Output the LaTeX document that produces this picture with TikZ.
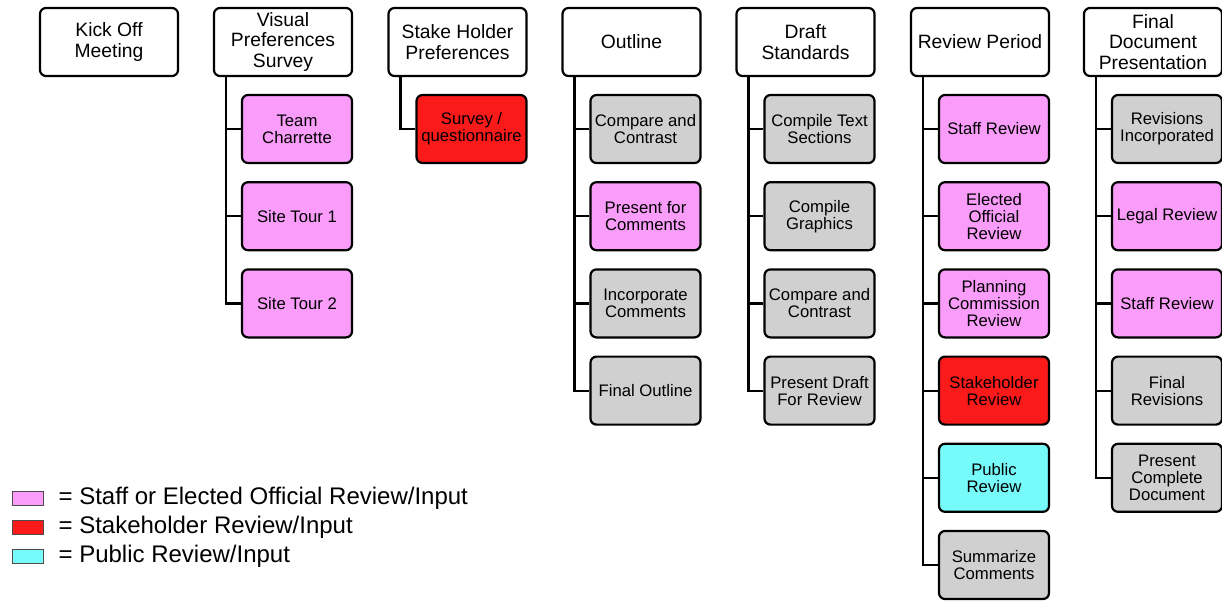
\documentclass[tikz,border=0pt]{standalone}
\usepackage{fontspec}
\setmainfont{Liberation Sans}
\usetikzlibrary{positioning}

\definecolor{staffpink}{RGB}{250,156,250}
\definecolor{holderred}{RGB}{250,26,26}
\definecolor{publiccyan}{RGB}{118,250,250}
\definecolor{taskgray}{RGB}{208,208,208}

\tikzset{
	phase/.style={draw, line width=2.2pt, rounded corners=6pt, fill=white, minimum width=138pt, minimum height=68pt, inner sep=1pt, align=center, font=\fontsize{19.3}{20.5}\selectfont},
	task/.style={draw, line width=2.2pt, rounded corners=6pt, minimum width=110pt, minimum height=68pt, inner sep=1pt, align=center, font=\fontsize{16.7}{17}\selectfont},
	staff/.style={task, fill=staffpink},
	holder/.style={task, fill=holderred},
	public/.style={task, fill=publiccyan},
	plain/.style={task, fill=taskgray},
	link/.style={line width=2.2pt},
	keybox/.style={draw=black!70, line width=0.8pt, minimum width=31pt, minimum height=14pt, inner sep=0pt},
	keytext/.style={font=\fontsize{24}{28}\selectfont, inner sep=0pt}
}

\begin{document}
\begin{tikzpicture}[x=1pt, y=1pt]
	\useasboundingbox (0,0) rectangle (1222,-600);

	% phases
	\node (kickoff) [phase] at (109,-42) {Kick Off\\Meeting};
	\node (visual) [phase] at (283,-42) {Visual\\Preferences\\Survey};
	\node (stake) [phase] at (457.5,-42) {Stake Holder\\Preferences};
	\node (outline) [phase] at (631.5,-42) {Outline};
	\node (draft) [phase] at (805.5,-42) {Draft\\Standards};
	\node (review) [phase] at (980,-42) {Review Period};
	\node (final) [phase] at (1153,-42) {Final\\Document\\Presentation};

	% visual preferences survey
	\node (charrette) [staff] at (297,-129) {Team\\Charrette};
	\node (tour1) [staff][below=17pt of charrette] {Site Tour 1};
	\node (tour2) [staff][below=17pt of tour1] {Site Tour 2};

	% stake holder preferences
	\node (survey) [holder] at (471.5,-129) {Survey /\\questionnaire};

	% outline
	\node (compare) [plain] at (645.5,-129) {Compare and\\Contrast};
	\node (present) [staff][below=17pt of compare] {Present for\\Comments};
	\node (incorp) [plain][below=17pt of present] {Incorporate\\Comments};
	\node (finout) [plain][below=17pt of incorp] {Final Outline};

	% draft standards
	\node (comptext) [plain] at (819.5,-129) {Compile Text\\Sections};
	\node (compgraph) [plain][below=17pt of comptext] {Compile\\Graphics};
	\node (contrast) [plain][below=17pt of compgraph] {Compare and\\Contrast};
	\node (presdraft) [plain][below=17pt of contrast] {Present Draft\\For Review};

	% review period
	\node (staffrev) [staff] at (994,-129) {Staff Review};
	\node (elected) [staff][below=17pt of staffrev] {Elected\\Official\\Review};
	\node (planning) [staff][below=17pt of elected] {Planning\\Commission\\Review};
	\node (holderrev) [holder][below=17pt of planning] {Stakeholder\\Review};
	\node (publicrev) [public][below=17pt of holderrev] {Public\\Review};
	\node (summarize) [plain][below=17pt of publicrev] {Summarize\\Comments};

	% final document presentation
	\node (revisions) [plain] at (1167,-129) {Revisions\\Incorporated};
	\node (legal) [staff][below=17pt of revisions] {Legal Review};
	\node (staffdoc) [staff][below=17pt of legal] {Staff Review};
	\node (finrev) [plain][below=17pt of staffdoc] {Final\\Revisions};
	\node (complete) [plain][below=17pt of finrev] {Present\\Complete\\Document};

	% connectors
	\foreach \c in {charrette, tour1, tour2}
		\draw [link] ([xshift=13pt]visual.south west) |- (\c.west);
	\draw [link] ([xshift=13pt]stake.south west) |- (survey.west);
	\foreach \c in {compare, present, incorp, finout}
		\draw [link] ([xshift=13pt]outline.south west) |- (\c.west);
	\foreach \c in {comptext, compgraph, contrast, presdraft}
		\draw [link] ([xshift=13pt]draft.south west) |- (\c.west);
	\foreach \c in {staffrev, elected, planning, holderrev, publicrev, summarize}
		\draw [link] ([xshift=13pt]review.south west) |- (\c.west);
	\foreach \c in {revisions, legal, staffdoc, finrev, complete}
		\draw [link] ([xshift=13pt]final.south west) |- (\c.west);

	% legend
	\node (keypink) [keybox, fill=staffpink] at (27.5,-498) {};
	\node (keyred) [keybox, fill=holderred] at (27.5,-527) {};
	\node (keycyan) [keybox, fill=publiccyan] at (27.5,-556) {};
	\node (txtpink) [keytext, right=15pt of keypink] {= Staff or Elected Official Review/Input};
	\node (txtred) [keytext, right=15pt of keyred] {= Stakeholder Review/Input};
	\node (txtcyan) [keytext, right=15pt of keycyan] {= Public Review/Input};
\end{tikzpicture}
\end{document}
